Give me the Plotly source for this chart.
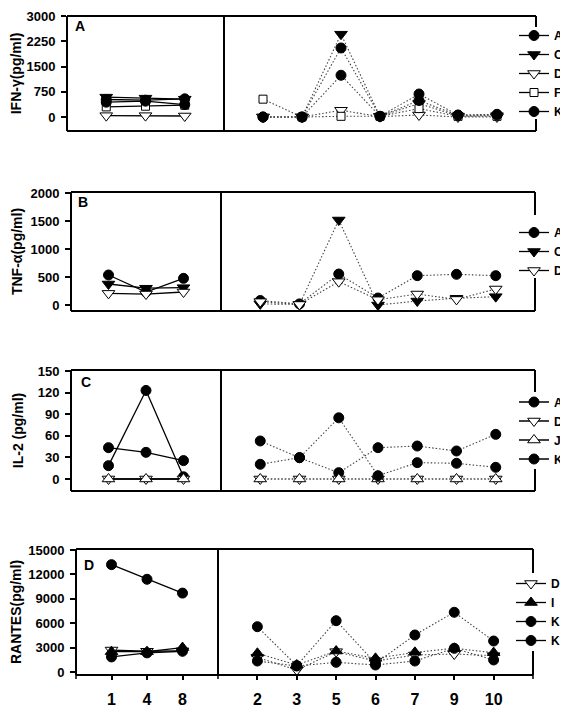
import plotly.graph_objects as go

# The page body has an 8px default margin, so the figure is drawn 8px in from the window edge.
WIN_W, WIN_H, OFF = 568, 707, 8
W, H = WIN_W - OFF, WIN_H - OFF
FONT = "Arial, 'Liberation Sans', Helvetica, sans-serif"

# ---------------- categories (x) ----------------
left_days = ['1', '4', '8']
right_days = ['2', '3', '5', '6', '7', '9', '10']

# ---------------- Panel A: IFN-gamma (pg/ml) ----------------
ifn_ticks = [0, 750, 1500, 2250, 3000]
ifn_A_left = [520, 500, 540]
ifn_A_right = [0, 0, 2050, 20, 683, 60, 80]
ifn_C_left = [590, 560, 530]
ifn_C_right = [0, 0, 2460, 20, 400, 30, 40]
ifn_D_left = [40, 40, 30]
ifn_D_right = [0, 0, 200, 10, 60, 0, 0]
ifn_F_left = [300, 320, 350]
ifn_F_right = [530, 0, 20, 20, 250, 20, 20]
ifn_K_left = [440, 470, 370]
ifn_K_right = [0, 0, 1240, 20, 490, 50, 60]

# ---------------- Panel B: TNF-alpha (pg/ml) ----------------
tnf_ticks = [0, 500, 1000, 1500, 2000]
tnf_A_left = [536, 230, 476]
tnf_A_right = [80, 20, 553, 125, 524, 548, 524]
tnf_C_left = [375, 300, 310]
tnf_C_right = [20, 10, 1518, 0, 71, 120, 149]
tnf_D_left = [208, 196, 232]
tnf_D_right = [60, 10, 417, 95, 196, 100, 286]

# ---------------- Panel C: IL-2 (pg/ml) ----------------
il2_ticks = [0, 30, 60, 90, 120, 150]
il2_A_left = [18.5, 123, 3]
il2_A_right = [52.8, 29.6, 8.8, 43.5, 45.8, 38.9, 62]
il2_D_left = [0, 0, 0]
il2_D_right = [0, 0, 0, 0, 0, 0, 0]
il2_J_left = [0, 0, 0]
il2_J_right = [0, 0, 0, 0, 0, 0, 0]
il2_K_left = [43.5, 37, 25.5]
il2_K_right = [20.4, 29.6, 85, 4.6, 22.7, 21.8, 16.2]

# ---------------- Panel D: RANTES (pg/ml) ----------------
rantes_ticks = [0, 3000, 6000, 9000, 12000, 15000]
rantes_D_left = [2700, 2550, 2600]
rantes_D_right = [1800, 250, 2500, 1350, 2090, 2210, 2010]
rantes_I_left = [2500, 2500, 3000]
rantes_I_right = [2300, 860, 2580, 1680, 2420, 2910, 2380]
rantes_K_left = [13200, 11400, 9700]
rantes_K_right = [5570, 780, 6310, 1070, 4550, 7340, 3810]
rantes_K2_left = [1850, 2350, 2550]
rantes_K2_right = [1350, 740, 1190, 860, 1350, 2910, 1480]

# ---------------- marker styles ----------------
STY = {
    'A': dict(symbol='circle', size=10, color='black', line=dict(color='black', width=1)),
    'C': dict(symbol='triangle-down', size=11, color='black', line=dict(color='black', width=1)),
    'D': dict(symbol='triangle-down', size=11, color='white', line=dict(color='black', width=1)),
    'F': dict(symbol='square', size=8, color='white', line=dict(color='black', width=1)),
    'K': dict(symbol='circle', size=10, color='black', line=dict(color='black', width=1)),
    'I': dict(symbol='triangle-up', size=11, color='black', line=dict(color='black', width=1)),
    'J': dict(symbol='triangle-up', size=11, color='white', line=dict(color='black', width=1)),
    "K'": dict(symbol='circle', size=10, color='black', line=dict(color='black', width=1)),
}

panel_series = [
    [('A', ifn_A_left, ifn_A_right), ('C', ifn_C_left, ifn_C_right), ('D', ifn_D_left, ifn_D_right),
     ('F', ifn_F_left, ifn_F_right), ('K', ifn_K_left, ifn_K_right)],
    [('A', tnf_A_left, tnf_A_right), ('C', tnf_C_left, tnf_C_right), ('D', tnf_D_left, tnf_D_right)],
    [('A', il2_A_left, il2_A_right), ('D', il2_D_left, il2_D_right), ('J', il2_J_left, il2_J_right),
     ('K', il2_K_left, il2_K_right)],
    [('D', rantes_D_left, rantes_D_right), ('I', rantes_I_left, rantes_I_right),
     ('K', rantes_K_left, rantes_K_right), ("K'", rantes_K2_left, rantes_K2_right)],
]

# panel geometry (window pixels)
panels = [
    dict(left=67, div=224, right=536, top=16, bottom=131, yr=[-416, 3000.5], ticks=ifn_ticks,
         title='IFN-γ(pg/ml)', standoff=3, letter='A', lx=80, ly=26, gap=(27, 119)),
    dict(left=71, div=221, right=535, top=192, bottom=311, yr=[-107, 2018], ticks=tnf_ticks,
         title='TNF-α(pg/ml)', standoff=4, letter='B', lx=83, ly=202, gap=(215, 278)),
    dict(left=71, div=221, right=535, top=370, bottom=491, yr=[-16.7, 151.4], ticks=il2_ticks,
         title='IL-2 (pg/ml)', standoff=10, letter='C', lx=86, ly=382, gap=(392, 469)),
    dict(left=76, div=218, right=533, top=549, bottom=675, yr=[-369, 15123], ticks=rantes_ticks,
         title='RANTES(pg/ml)', standoff=4, letter='D', lx=89, ly=565, gap=(573, 651)),
]


def fx(px):
    return (px - OFF) / W


def fy(py):
    return 1 - (py - OFF) / H


fig = go.Figure()
layout = dict(width=W, height=H, autosize=False,
              margin=dict(l=0, r=0, t=0, b=0, pad=0, autoexpand=False),
              paper_bgcolor='white', plot_bgcolor='rgba(0,0,0,0)', showlegend=True,
              font=dict(family=FONT, color='black'))
shapes = []
annotations = []

for i, (p, series) in enumerate(zip(panels, panel_series)):
    xl = 2 * i + 1
    xr = 2 * i + 2
    yi = i + 1
    xl_name = 'x' if xl == 1 else f'x{xl}'
    xr_name = f'x{xr}'
    y_name = 'y' if yi == 1 else f'y{yi}'
    leg_name = 'legend' if yi == 1 else f'legend{yi}'
    last = (i == 3)

    for name, lv, rv in series:
        fig.add_trace(go.Scatter(
            x=left_days, y=lv, name=name, mode='lines+markers',
            xaxis=xl_name, yaxis=y_name, legend=leg_name, showlegend=True,
            line=dict(color='black', width=1.3), marker=STY[name], cliponaxis=False))
        fig.add_trace(go.Scatter(
            x=right_days, y=rv, name=name, mode='lines+markers',
            xaxis=xr_name, yaxis=y_name, showlegend=False,
            line=dict(color='#444444', width=1.1, dash='1.5px,2px'), marker=STY[name],
            cliponaxis=False))

    common_x = dict(type='category', showgrid=False, zeroline=False, showline=False,
                    anchor=y_name, fixedrange=True, automargin=False)
    if last:
        xt = dict(ticks='outside', ticklen=4, tickwidth=1.5, tickcolor='black',
                  showticklabels=True, ticklabelstandoff=6, ticklabeloverflow='allow',
                  tickfont=dict(family=FONT, size=16, weight='bold', color='black'))
    else:
        xt = dict(ticks='', showticklabels=False)
    layout[f'xaxis{xl}' if xl > 1 else 'xaxis'] = dict(
        domain=[fx(p['left']), fx(p['div'])], categoryorder='array', categoryarray=left_days,
        range=[-1, 3], **common_x, **xt)
    layout[f'xaxis{xr}'] = dict(
        domain=[fx(p['div']), fx(p['right'])], categoryorder='array', categoryarray=right_days,
        range=[-1, 7], **common_x, **xt)
    layout[f'yaxis{yi}' if yi > 1 else 'yaxis'] = dict(
        domain=[fy(p['bottom']), fy(p['top'])], anchor=xl_name, range=p['yr'],
        tickmode='array', tickvals=p['ticks'], ticktext=[str(v) for v in p['ticks']],
        ticks='outside', ticklen=5, tickwidth=1.5, automargin=False,
        tickcolor='black', showgrid=False, zeroline=False, showline=False, fixedrange=True,
        ticklabelstandoff=3, ticklabeloverflow='allow',
        tickfont=dict(family=FONT, size=13, weight='bold', color='black'),
        title=dict(text=p['title'], standoff=p['standoff'],
                   font=dict(family=FONT, size=14, weight='bold', color='black')))

    # legend
    layout[leg_name] = dict(
        x=1, xanchor='right', y=fy((p['top'] + p['bottom']) / 2),
        yanchor='middle', bgcolor='rgba(0,0,0,0)', borderwidth=0, tracegroupgap=0,
        traceorder='normal', itemclick=False, itemdoubleclick=False,
        font=dict(family=FONT, size=12, weight='bold', color='black'))

    # frame lines
    lw = dict(color='black', width=2)

    def seg(x0, y0, x1, y1):
        return dict(type='line', xref='paper', yref='paper', x0=fx(x0), y0=fy(y0),
                    x1=fx(x1), y1=fy(y1), line=lw, layer='above')

    shapes += [
        seg(p['left'], p['top'], p['right'], p['top']),
        seg(p['left'], p['bottom'], p['right'], p['bottom']),
        seg(p['left'], p['top'], p['left'], p['bottom']),
        seg(p['div'], p['top'], p['div'], p['bottom']),
        seg(p['right'], p['top'], p['right'], p['gap'][0]),
        seg(p['right'], p['gap'][1], p['right'], p['bottom']),
    ]
    if last:
        for xe in (p['left'], p['div'], p['right']):
            shapes.append(dict(type='line', xref='paper', yref='paper', x0=fx(xe), x1=fx(xe),
                               y0=fy(p['bottom']), y1=fy(p['bottom'] + 4),
                               line=dict(color='black', width=1.5)))

    annotations.append(dict(text=p['letter'], xref='paper', yref='paper', x=fx(p['lx']),
                            y=fy(p['ly']), xanchor='center', yanchor='middle', showarrow=False,
                            font=dict(family=FONT, size=14, weight='bold', color='black')))

layout['shapes'] = shapes
layout['annotations'] = annotations
fig.update_layout(**layout)
fig.write_html("out.html")
